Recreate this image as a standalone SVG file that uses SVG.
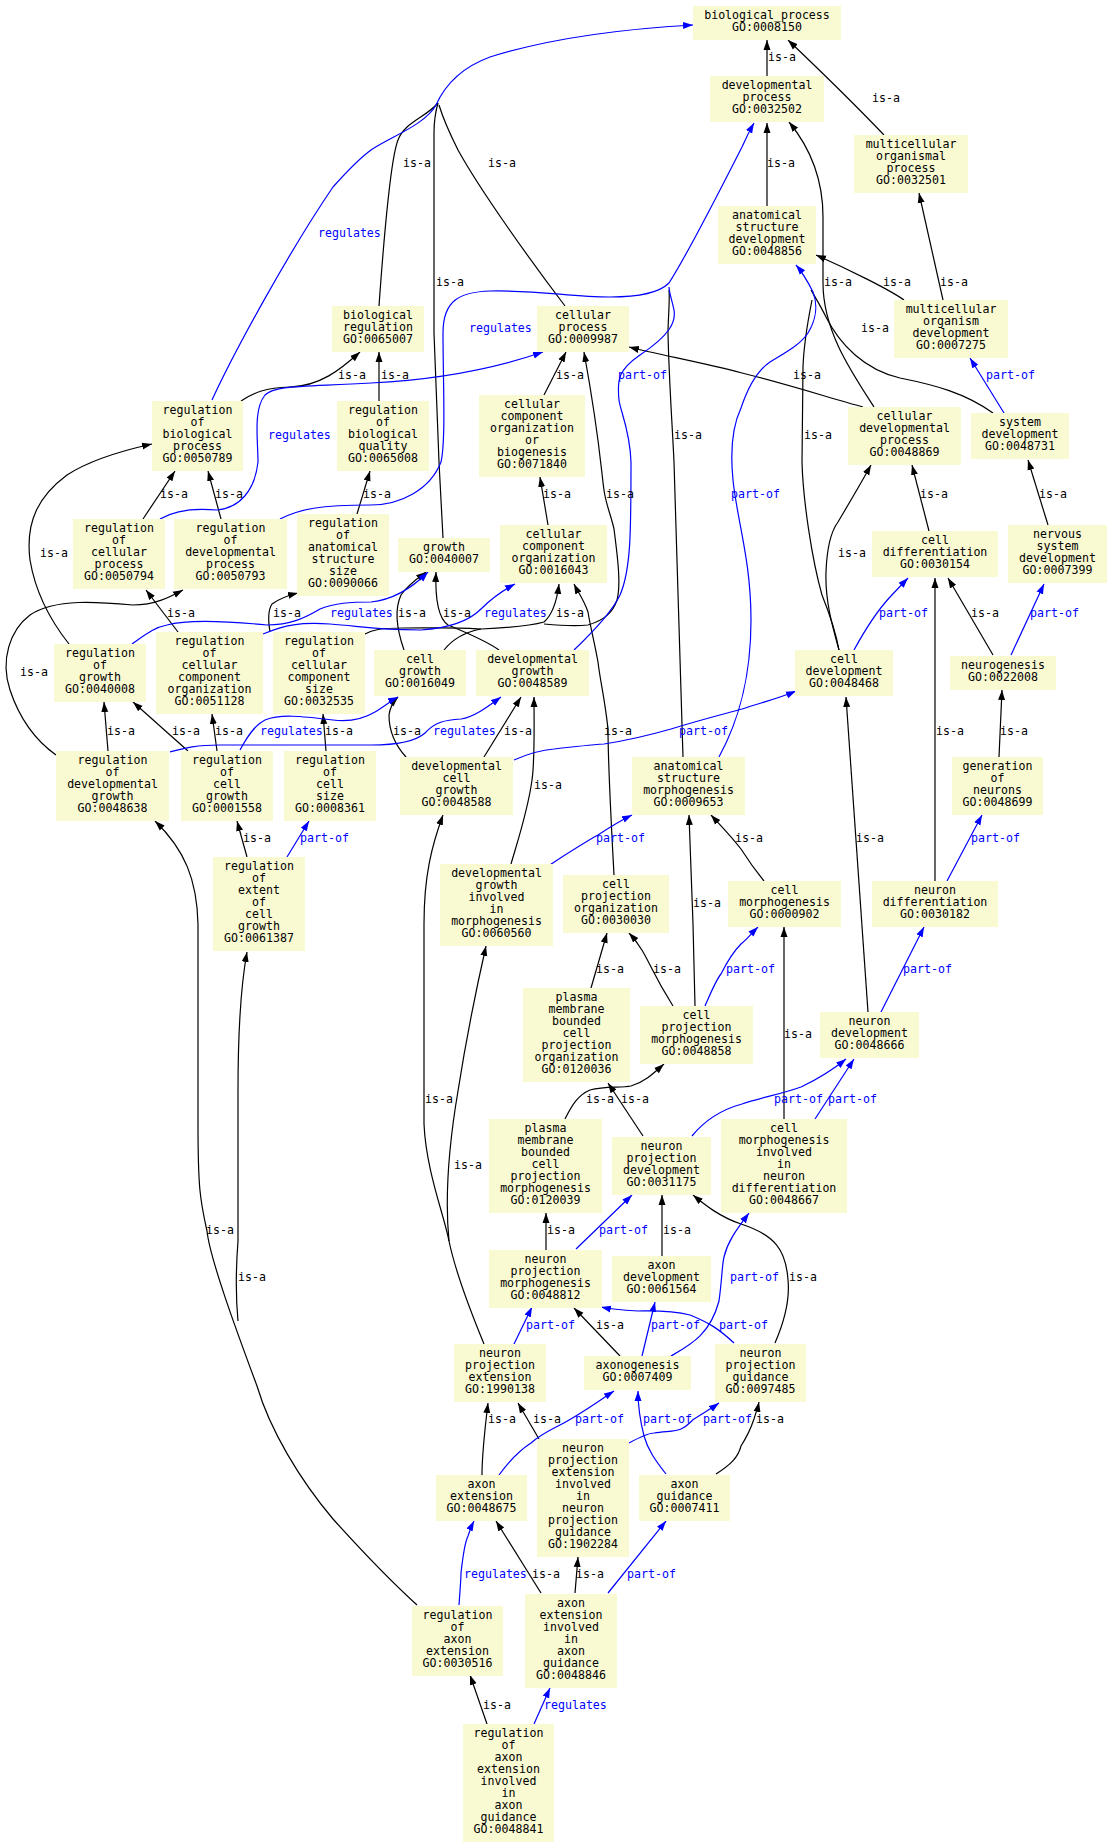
<svg xmlns="http://www.w3.org/2000/svg" width="1112" height="1848" viewBox="0 0 1112 1848">
<defs>
<style>
text{font-family:"DejaVu Sans Mono",monospace;font-size:11.6px}
.n rect{fill:#fafad2}
.n text{text-anchor:middle;fill:#000}
.e{fill:none;stroke:#000;stroke-width:1.2}
.b{fill:none;stroke:#00f;stroke-width:1.2}
.ek{marker-end:url(#ak)}
.bk{marker-end:url(#ab)}
.l{fill:#000}
.lb{fill:#00f}
</style>
<marker id="ak" markerUnits="userSpaceOnUse" markerWidth="11" markerHeight="9" refX="10" refY="4" orient="auto"><path d="M0,0.5 L10,4 L0,7.5 z" fill="#000"/></marker>
<marker id="ab" markerUnits="userSpaceOnUse" markerWidth="11" markerHeight="9" refX="10" refY="4" orient="auto"><path d="M0,0.5 L10,4 L0,7.5 z" fill="#00f"/></marker>
</defs>
<rect width="1112" height="1848" fill="#fff"/>
<g id="connectors">
<path class="e ek" d="M767,76 L767,40"/>
<path class="e ek" d="M884,135 C862,112 830,80 788,40"/>
<path class="e ek" d="M767,206 L767,123"/>
<path class="e ek" d="M904,300 C890,290 850,270 816,255"/>
<path class="e ek" d="M943,300 L919,193"/>
<path class="e ek" d="M874,407 C850,370 823,330 823,283 L823,217 C823,180 812,150 789,122"/>
<path class="e" d="M993,413 C965,393 935,385 900,378 C865,370 840,345 826,317 C820,305 815,297 811,290"/>
<path class="e" d="M839,650 C835,628 828,610 822,595 C812,560 803,500 802,462 L803,367 C804,340 808,320 812,300"/>
<path class="e" d="M683,757 L674,462 C672,420 669,380 668,333 C668,320 670,300 669,290"/>
<path class="e ek" d="M863,407 C830,398 790,385 742,373 C700,362 660,355 629,347"/>
<path class="e" d="M379,306 C383,250 390,160 398,140 C405,122 425,118 438,103"/>
<path class="e" d="M443,538 L439,462 L434,333 L434,133 C434,120 436,110 438,103"/>
<path class="e" d="M565,306 C530,260 480,190 458,150 C448,130 442,115 439,105"/>
<path class="e ek" d="M241,401 C255,392 265,388 290,387 C320,386 340,370 360,352"/>
<path class="e ek" d="M379,401 L379,352"/>
<path class="e ek" d="M544,395 L566,352"/>
<path class="e ek" d="M143,519 L175,471"/>
<path class="e ek" d="M221,519 L208,471"/>
<path class="e ek" d="M357,514 L370,471"/>
<path class="e ek" d="M548,525 L540,477"/>
<path class="e ek" d="M404,650 C397,630 394,610 401,595 C408,585 418,578 426,572"/>
<path class="e ek" d="M499,650 C485,640 460,630 448,625 C438,618 435,600 436,572"/>
<path class="e ek" d="M69,644 C50,620 35,590 30,560 C25,520 40,495 67,475 C90,460 125,450 152,444"/>
<path class="e ek" d="M56,755 C35,740 20,720 10,690 C0,660 10,630 30,615 C55,598 100,602 133,605 C155,605 170,597 183,590"/>
<path class="e ek" d="M178,632 L146,590"/>
<path class="e ek" d="M270,632 C268,620 268,610 272,604 C280,598 290,595 298,593"/>
<path class="e" d="M444,650 C452,640 465,632 481,629"/>
<path class="e" d="M365,634 C372,630 380,628 404,628 C430,628 460,627 481,629"/>
<path class="e ek" d="M481,629 C505,628 530,626 544,622 C552,615 557,600 559,584"/>
<path class="e ek" d="M544,624 C565,626 580,626 588,625 C605,620 613,612 617,600 C621,585 618,560 614,529 C611,515 606,505 604,490 C601,470 600,440 584,352"/>
<path class="e ek" d="M614,875 C611,820 608,760 608,729 C605,700 600,680 598,662 C594,640 590,625 588,612 C584,600 578,592 574,584"/>
<path class="e ek" d="M108,751 L104,702"/>
<path class="e ek" d="M188,751 L133,702"/>
<path class="e ek" d="M217,751 L212,714"/>
<path class="e ek" d="M326,751 L323,714"/>
<path class="e ek" d="M247,857 L237,821"/>
<path class="e ek" d="M406,757 C395,745 389,730 389,715 C390,707 394,701 398,697"/>
<path class="e ek" d="M484,757 L521,697"/>
<path class="e ek" d="M511,864 C518,840 528,810 532,780 C535,760 534,720 534,697"/>
<path class="e ek" d="M929,531 L912,465"/>
<path class="e ek" d="M839,650 C832,625 825,600 826,572 C827,545 832,530 838,522 C848,505 860,485 871,465"/>
<path class="e ek" d="M1048,525 L1028,460"/>
<path class="e ek" d="M993,655 L948,578"/>
<path class="e ek" d="M999,757 L1002,690"/>
<path class="e ek" d="M935,881 L935,578"/>
<path class="e ek" d="M868,1012 L846,697"/>
<path class="e ek" d="M764,881 C755,870 748,860 741,849 C730,835 720,825 711,815"/>
<path class="e ek" d="M673,1006 C663,990 655,975 651,967 C645,955 640,945 629,933"/>
<path class="e ek" d="M695,1006 L693,924 L689,815"/>
<path class="e ek" d="M591,988 L607,933"/>
<path class="e ek" d="M565,1119 C572,1105 578,1095 590,1090 C605,1086 620,1088 631,1086 C645,1082 655,1072 664,1064"/>
<path class="e ek" d="M643,1136 L608,1083"/>
<path class="e ek" d="M784,1119 L784,927"/>
<path class="e ek" d="M546,1250 L546,1213"/>
<path class="e ek" d="M662,1256 L662,1195"/>
<path class="e ek" d="M775,1343 C785,1320 790,1300 788,1280 C786,1250 775,1235 741,1224 C720,1217 705,1205 693,1195"/>
<path class="e ek" d="M620,1356 L574,1308"/>
<path class="e ek" d="M484,1344 C470,1310 455,1270 449,1241 C445,1200 448,1150 458,1091 C466,1040 476,990 486,946"/>
<path class="e ek" d="M449,1241 C444,1215 426,1170 424,1124 L424,924 C424,875 432,845 443,815"/>
<path class="e ek" d="M417,1605 C395,1585 370,1560 333,1519 C300,1480 270,1430 257,1386 C240,1340 210,1260 207,1231 C200,1200 198,1187 198,1124 L198,924 C197,880 185,850 155,821"/>
<path class="e ek" d="M238,1321 C236,1300 235,1280 238,1241 L238,1091 C238,1040 240,990 247,952"/>
<path class="e ek" d="M482,1475 C482,1455 484,1436 488,1403"/>
<path class="e ek" d="M539,1439 L518,1403"/>
<path class="e ek" d="M716,1474 C730,1465 738,1458 741,1446 C748,1435 752,1425 754,1419 C756,1412 758,1407 759,1402"/>
<path class="e ek" d="M541,1593 L496,1521"/>
<path class="e ek" d="M575,1593 L578,1557"/>
<path class="e ek" d="M487,1724 L470,1675"/>
<path class="b bk" d="M212,400 C235,350 290,250 333,187 C350,168 360,158 371,150 C390,137 425,125 436,105 C445,85 460,68 490,57 C560,35 640,28 693,25"/>
<path class="b bk" d="M280,519 C300,509 320,505 371,505 C400,505 430,490 441,462 C446,440 443,380 443,333 C443,300 460,292 490,291 C540,290 570,297 610,297 C640,297 660,292 669,283 C690,250 720,190 742,147 C746,138 750,130 754,123"/>
<path class="b" d="M574,650 C595,630 612,612 620,595 C631,570 631,530 631,462 C630,430 620,410 619,400 C617,380 618,370 640,355 C670,335 676,322 674,310 C672,300 669,292 669,287"/>
<path class="b bk" d="M719,757 C738,722 751,680 751,620 C751,560 737,520 733,480 C730,450 733,425 741,408 C747,390 755,372 770,362 C785,353 800,345 808,333 C816,320 818,305 813,292 C808,282 802,272 796,265"/>
<path class="b bk" d="M160,519 C175,510 195,508 217,510 C240,508 255,490 258,462 C258,440 253,410 265,395 C275,385 300,387 371,383 C430,380 490,370 543,352"/>
<path class="b bk" d="M263,634 C285,625 300,622 330,624 C360,626 371,630 421,630 C450,628 470,620 481,609 C490,600 500,592 515,584"/>
<path class="b bk" d="M132,644 C145,635 155,627 167,625 C185,620 215,620 267,625 C290,625 305,618 320,609 C335,603 350,602 371,602 C390,600 410,590 428,572"/>
<path class="b bk" d="M240,750 C248,735 255,725 265,720 C280,714 300,716 333,720 C350,722 365,718 375,712 C385,706 392,700 398,697"/>
<path class="b bk" d="M170,752 C185,748 195,745 220,745 L371,745 C395,745 415,742 425,733 C435,722 445,720 461,719 C475,717 490,705 501,697"/>
<path class="b bk" d="M287,857 L309,821"/>
<path class="b bk" d="M514,760 C530,753 540,750 554,749 C580,746 590,745 604,744 C630,740 650,735 671,729 C700,720 720,715 742,709 C760,703 780,698 796,691"/>
<path class="b bk" d="M551,864 C565,855 585,842 598,835 C610,827 620,821 632,815"/>
<path class="b bk" d="M854,650 C866,628 878,610 890,597 L908,578"/>
<path class="b bk" d="M1004,413 L970,358"/>
<path class="b bk" d="M1011,655 L1044,584"/>
<path class="b bk" d="M947,881 L982,815"/>
<path class="b bk" d="M881,1012 L924,927"/>
<path class="b bk" d="M705,1006 C712,990 716,980 721,974 C728,960 735,950 741,944 C748,938 753,932 758,927"/>
<path class="b bk" d="M692,1136 C705,1120 720,1110 742,1104 C760,1098 785,1093 801,1087 C820,1078 835,1068 846,1059"/>
<path class="b bk" d="M815,1119 L854,1059"/>
<path class="b bk" d="M576,1249 L632,1195"/>
<path class="b bk" d="M642,1356 L655,1302"/>
<path class="b bk" d="M671,1356 C690,1345 710,1335 719,1301 C722,1280 722,1265 724,1257 C728,1240 738,1228 749,1213"/>
<path class="b bk" d="M734,1343 C720,1330 710,1323 690,1315 C670,1310 650,1311 638,1311 C620,1310 610,1309 601,1307"/>
<path class="b bk" d="M514,1344 L532,1307"/>
<path class="b bk" d="M499,1475 C510,1460 520,1450 531,1443 C540,1435 550,1430 558,1426 C580,1415 600,1400 614,1391"/>
<path class="b bk" d="M666,1474 C655,1460 648,1450 644,1436 C640,1420 638,1405 638,1391"/>
<path class="b bk" d="M629,1443 C640,1437 648,1433 654,1433 C665,1431 675,1432 681,1429 C688,1426 690,1422 694,1419 C705,1412 712,1408 719,1403"/>
<path class="b bk" d="M459,1605 C460,1590 461,1580 461,1573 C463,1555 466,1540 468,1536 C470,1530 472,1525 474,1521"/>
<path class="b bk" d="M608,1593 L666,1521"/>
<path class="b bk" d="M534,1724 L550,1688"/>
<text class="l" x="768" y="61">is-a</text>
<text class="l" x="872" y="102">is-a</text>
<text class="l" x="403" y="167">is-a</text>
<text class="l" x="488" y="167">is-a</text>
<text class="l" x="767" y="167">is-a</text>
<text class="lb" x="318" y="237">regulates</text>
<text class="l" x="436" y="286">is-a</text>
<text class="l" x="824" y="286">is-a</text>
<text class="l" x="883" y="286">is-a</text>
<text class="l" x="940" y="286">is-a</text>
<text class="lb" x="469" y="332">regulates</text>
<text class="l" x="861" y="332">is-a</text>
<text class="l" x="338" y="379">is-a</text>
<text class="l" x="381" y="379">is-a</text>
<text class="l" x="556" y="379">is-a</text>
<text class="lb" x="618" y="379">part-of</text>
<text class="l" x="793" y="379">is-a</text>
<text class="lb" x="986" y="379">part-of</text>
<text class="lb" x="268" y="439">regulates</text>
<text class="l" x="674" y="439">is-a</text>
<text class="l" x="804" y="439">is-a</text>
<text class="l" x="160" y="498">is-a</text>
<text class="l" x="215" y="498">is-a</text>
<text class="l" x="363" y="498">is-a</text>
<text class="l" x="543" y="498">is-a</text>
<text class="l" x="606" y="498">is-a</text>
<text class="lb" x="731" y="498">part-of</text>
<text class="l" x="920" y="498">is-a</text>
<text class="l" x="1039" y="498">is-a</text>
<text class="l" x="40" y="557">is-a</text>
<text class="l" x="838" y="557">is-a</text>
<text class="l" x="167" y="617">is-a</text>
<text class="l" x="273" y="617">is-a</text>
<text class="lb" x="330" y="617">regulates</text>
<text class="l" x="398" y="617">is-a</text>
<text class="l" x="443" y="617">is-a</text>
<text class="lb" x="484" y="617">regulates</text>
<text class="l" x="556" y="617">is-a</text>
<text class="lb" x="879" y="617">part-of</text>
<text class="l" x="971" y="617">is-a</text>
<text class="lb" x="1030" y="617">part-of</text>
<text class="l" x="20" y="676">is-a</text>
<text class="l" x="107" y="735">is-a</text>
<text class="l" x="172" y="735">is-a</text>
<text class="l" x="215" y="735">is-a</text>
<text class="lb" x="260" y="735">regulates</text>
<text class="l" x="325" y="735">is-a</text>
<text class="l" x="393" y="735">is-a</text>
<text class="lb" x="433" y="735">regulates</text>
<text class="l" x="504" y="735">is-a</text>
<text class="l" x="604" y="735">is-a</text>
<text class="lb" x="679" y="735">part-of</text>
<text class="l" x="936" y="735">is-a</text>
<text class="l" x="1000" y="735">is-a</text>
<text class="l" x="534" y="789">is-a</text>
<text class="l" x="243" y="842">is-a</text>
<text class="lb" x="300" y="842">part-of</text>
<text class="lb" x="596" y="842">part-of</text>
<text class="l" x="735" y="842">is-a</text>
<text class="l" x="856" y="842">is-a</text>
<text class="lb" x="971" y="842">part-of</text>
<text class="l" x="693" y="907">is-a</text>
<text class="l" x="596" y="973">is-a</text>
<text class="l" x="653" y="973">is-a</text>
<text class="lb" x="726" y="973">part-of</text>
<text class="lb" x="903" y="973">part-of</text>
<text class="l" x="784" y="1038">is-a</text>
<text class="l" x="425" y="1103">is-a</text>
<text class="l" x="586" y="1103">is-a</text>
<text class="l" x="621" y="1103">is-a</text>
<text class="lb" x="774" y="1103">part-of</text>
<text class="lb" x="828" y="1103">part-of</text>
<text class="l" x="454" y="1169">is-a</text>
<text class="l" x="206" y="1234">is-a</text>
<text class="l" x="547" y="1234">is-a</text>
<text class="lb" x="599" y="1234">part-of</text>
<text class="l" x="663" y="1234">is-a</text>
<text class="l" x="238" y="1281">is-a</text>
<text class="lb" x="730" y="1281">part-of</text>
<text class="l" x="789" y="1281">is-a</text>
<text class="lb" x="526" y="1329">part-of</text>
<text class="l" x="596" y="1329">is-a</text>
<text class="lb" x="651" y="1329">part-of</text>
<text class="lb" x="719" y="1329">part-of</text>
<text class="l" x="488" y="1423">is-a</text>
<text class="l" x="533" y="1423">is-a</text>
<text class="lb" x="575" y="1423">part-of</text>
<text class="lb" x="643" y="1423">part-of</text>
<text class="lb" x="703" y="1423">part-of</text>
<text class="l" x="756" y="1423">is-a</text>
<text class="lb" x="464" y="1578">regulates</text>
<text class="l" x="532" y="1578">is-a</text>
<text class="l" x="576" y="1578">is-a</text>
<text class="lb" x="627" y="1578">part-of</text>
<text class="l" x="483" y="1709">is-a</text>
<text class="lb" x="544" y="1709">regulates</text>
</g>
<g id="bp" class="n"><rect x="693" y="6" width="148" height="34"/><text x="767" y="19">biological_process<tspan x="767" dy="12">GO:0008150</tspan></text></g>
<g id="dp" class="n"><rect x="710" y="76" width="114" height="46"/><text x="767" y="89">developmental<tspan x="767" dy="12">process</tspan><tspan x="767" dy="12">GO:0032502</tspan></text></g>
<g id="mop" class="n"><rect x="854" y="135" width="114" height="58"/><text x="911" y="148">multicellular<tspan x="911" dy="12">organismal</tspan><tspan x="911" dy="12">process</tspan><tspan x="911" dy="12">GO:0032501</tspan></text></g>
<g id="asd" class="n"><rect x="718" y="206" width="98" height="58"/><text x="767" y="219">anatomical<tspan x="767" dy="12">structure</tspan><tspan x="767" dy="12">development</tspan><tspan x="767" dy="12">GO:0048856</tspan></text></g>
<g id="mod" class="n"><rect x="894" y="300" width="114" height="58"/><text x="951" y="313">multicellular<tspan x="951" dy="12">organism</tspan><tspan x="951" dy="12">development</tspan><tspan x="951" dy="12">GO:0007275</tspan></text></g>
<g id="cdp" class="n"><rect x="848" y="407" width="113" height="58"/><text x="904.5" y="420">cellular<tspan x="904.5" dy="12">developmental</tspan><tspan x="904.5" dy="12">process</tspan><tspan x="904.5" dy="12">GO:0048869</tspan></text></g>
<g id="sd" class="n"><rect x="971" y="413" width="98" height="46"/><text x="1020" y="426">system<tspan x="1020" dy="12">development</tspan><tspan x="1020" dy="12">GO:0048731</tspan></text></g>
<g id="br" class="n"><rect x="332" y="306" width="92" height="46"/><text x="378" y="319">biological<tspan x="378" dy="12">regulation</tspan><tspan x="378" dy="12">GO:0065007</tspan></text></g>
<g id="cp" class="n"><rect x="537" y="306" width="92" height="46"/><text x="583" y="319">cellular<tspan x="583" dy="12">process</tspan><tspan x="583" dy="12">GO:0009987</tspan></text></g>
<g id="rbp" class="n"><rect x="152" y="401" width="91" height="70"/><text x="197.5" y="414">regulation<tspan x="197.5" dy="12">of</tspan><tspan x="197.5" dy="12">biological</tspan><tspan x="197.5" dy="12">process</tspan><tspan x="197.5" dy="12">GO:0050789</tspan></text></g>
<g id="rbq" class="n"><rect x="337" y="401" width="92" height="70"/><text x="383" y="414">regulation<tspan x="383" dy="12">of</tspan><tspan x="383" dy="12">biological</tspan><tspan x="383" dy="12">quality</tspan><tspan x="383" dy="12">GO:0065008</tspan></text></g>
<g id="ccob" class="n"><rect x="479" y="395" width="106" height="82"/><text x="532" y="408">cellular<tspan x="532" dy="12">component</tspan><tspan x="532" dy="12">organization</tspan><tspan x="532" dy="12">or</tspan><tspan x="532" dy="12">biogenesis</tspan><tspan x="532" dy="12">GO:0071840</tspan></text></g>
<g id="rcp" class="n"><rect x="73" y="519" width="92" height="70"/><text x="119" y="532">regulation<tspan x="119" dy="12">of</tspan><tspan x="119" dy="12">cellular</tspan><tspan x="119" dy="12">process</tspan><tspan x="119" dy="12">GO:0050794</tspan></text></g>
<g id="rdp" class="n"><rect x="174" y="519" width="113" height="70"/><text x="230.5" y="532">regulation<tspan x="230.5" dy="12">of</tspan><tspan x="230.5" dy="12">developmental</tspan><tspan x="230.5" dy="12">process</tspan><tspan x="230.5" dy="12">GO:0050793</tspan></text></g>
<g id="rass" class="n"><rect x="297" y="514" width="92" height="82"/><text x="343" y="527">regulation<tspan x="343" dy="12">of</tspan><tspan x="343" dy="12">anatomical</tspan><tspan x="343" dy="12">structure</tspan><tspan x="343" dy="12">size</tspan><tspan x="343" dy="12">GO:0090066</tspan></text></g>
<g id="growth" class="n"><rect x="398" y="538" width="92" height="34"/><text x="444" y="551">growth<tspan x="444" dy="12">GO:0040007</tspan></text></g>
<g id="cco" class="n"><rect x="500" y="525" width="107" height="58"/><text x="553.5" y="538">cellular<tspan x="553.5" dy="12">component</tspan><tspan x="553.5" dy="12">organization</tspan><tspan x="553.5" dy="12">GO:0016043</tspan></text></g>
<g id="cd" class="n"><rect x="872" y="531" width="126" height="46"/><text x="935" y="544">cell<tspan x="935" dy="12">differentiation</tspan><tspan x="935" dy="12">GO:0030154</tspan></text></g>
<g id="nsd" class="n"><rect x="1008" y="525" width="99" height="58"/><text x="1057.5" y="538">nervous<tspan x="1057.5" dy="12">system</tspan><tspan x="1057.5" dy="12">development</tspan><tspan x="1057.5" dy="12">GO:0007399</tspan></text></g>
<g id="rg" class="n"><rect x="54" y="644" width="92" height="58"/><text x="100" y="657">regulation<tspan x="100" dy="12">of</tspan><tspan x="100" dy="12">growth</tspan><tspan x="100" dy="12">GO:0040008</tspan></text></g>
<g id="rcco" class="n"><rect x="156" y="632" width="107" height="82"/><text x="209.5" y="645">regulation<tspan x="209.5" dy="12">of</tspan><tspan x="209.5" dy="12">cellular</tspan><tspan x="209.5" dy="12">component</tspan><tspan x="209.5" dy="12">organization</tspan><tspan x="209.5" dy="12">GO:0051128</tspan></text></g>
<g id="rccs" class="n"><rect x="273" y="632" width="92" height="82"/><text x="319" y="645">regulation<tspan x="319" dy="12">of</tspan><tspan x="319" dy="12">cellular</tspan><tspan x="319" dy="12">component</tspan><tspan x="319" dy="12">size</tspan><tspan x="319" dy="12">GO:0032535</tspan></text></g>
<g id="cg" class="n"><rect x="374" y="650" width="92" height="46"/><text x="420" y="663">cell<tspan x="420" dy="12">growth</tspan><tspan x="420" dy="12">GO:0016049</tspan></text></g>
<g id="dg" class="n"><rect x="476" y="650" width="113" height="46"/><text x="532.5" y="663">developmental<tspan x="532.5" dy="12">growth</tspan><tspan x="532.5" dy="12">GO:0048589</tspan></text></g>
<g id="cdev" class="n"><rect x="795" y="650" width="98" height="46"/><text x="844" y="663">cell<tspan x="844" dy="12">development</tspan><tspan x="844" dy="12">GO:0048468</tspan></text></g>
<g id="ng" class="n"><rect x="950" y="656" width="106" height="34"/><text x="1003" y="669">neurogenesis<tspan x="1003" dy="12">GO:0022008</tspan></text></g>
<g id="rdg" class="n"><rect x="56" y="751" width="113" height="70"/><text x="112.5" y="764">regulation<tspan x="112.5" dy="12">of</tspan><tspan x="112.5" dy="12">developmental</tspan><tspan x="112.5" dy="12">growth</tspan><tspan x="112.5" dy="12">GO:0048638</tspan></text></g>
<g id="rcg" class="n"><rect x="181" y="751" width="92" height="70"/><text x="227" y="764">regulation<tspan x="227" dy="12">of</tspan><tspan x="227" dy="12">cell</tspan><tspan x="227" dy="12">growth</tspan><tspan x="227" dy="12">GO:0001558</tspan></text></g>
<g id="rcs" class="n"><rect x="284" y="751" width="92" height="70"/><text x="330" y="764">regulation<tspan x="330" dy="12">of</tspan><tspan x="330" dy="12">cell</tspan><tspan x="330" dy="12">size</tspan><tspan x="330" dy="12">GO:0008361</tspan></text></g>
<g id="dcg" class="n"><rect x="400" y="757" width="113" height="58"/><text x="456.5" y="770">developmental<tspan x="456.5" dy="12">cell</tspan><tspan x="456.5" dy="12">growth</tspan><tspan x="456.5" dy="12">GO:0048588</tspan></text></g>
<g id="asm" class="n"><rect x="632" y="757" width="113" height="58"/><text x="688.5" y="770">anatomical<tspan x="688.5" dy="12">structure</tspan><tspan x="688.5" dy="12">morphogenesis</tspan><tspan x="688.5" dy="12">GO:0009653</tspan></text></g>
<g id="gon" class="n"><rect x="952" y="757" width="91" height="58"/><text x="997.5" y="770">generation<tspan x="997.5" dy="12">of</tspan><tspan x="997.5" dy="12">neurons</tspan><tspan x="997.5" dy="12">GO:0048699</tspan></text></g>
<g id="recg" class="n"><rect x="213" y="857" width="92" height="94"/><text x="259" y="870">regulation<tspan x="259" dy="12">of</tspan><tspan x="259" dy="12">extent</tspan><tspan x="259" dy="12">of</tspan><tspan x="259" dy="12">cell</tspan><tspan x="259" dy="12">growth</tspan><tspan x="259" dy="12">GO:0061387</tspan></text></g>
<g id="dgim" class="n"><rect x="440" y="864" width="113" height="82"/><text x="496.5" y="877">developmental<tspan x="496.5" dy="12">growth</tspan><tspan x="496.5" dy="12">involved</tspan><tspan x="496.5" dy="12">in</tspan><tspan x="496.5" dy="12">morphogenesis</tspan><tspan x="496.5" dy="12">GO:0060560</tspan></text></g>
<g id="cpo" class="n"><rect x="563" y="875" width="106" height="58"/><text x="616" y="888">cell<tspan x="616" dy="12">projection</tspan><tspan x="616" dy="12">organization</tspan><tspan x="616" dy="12">GO:0030030</tspan></text></g>
<g id="cm" class="n"><rect x="728" y="881" width="113" height="46"/><text x="784.5" y="894">cell<tspan x="784.5" dy="12">morphogenesis</tspan><tspan x="784.5" dy="12">GO:0000902</tspan></text></g>
<g id="nd" class="n"><rect x="872" y="881" width="126" height="46"/><text x="935" y="894">neuron<tspan x="935" dy="12">differentiation</tspan><tspan x="935" dy="12">GO:0030182</tspan></text></g>
<g id="pmbcpo" class="n"><rect x="523" y="988" width="107" height="94"/><text x="576.5" y="1001">plasma<tspan x="576.5" dy="12">membrane</tspan><tspan x="576.5" dy="12">bounded</tspan><tspan x="576.5" dy="12">cell</tspan><tspan x="576.5" dy="12">projection</tspan><tspan x="576.5" dy="12">organization</tspan><tspan x="576.5" dy="12">GO:0120036</tspan></text></g>
<g id="cpm" class="n"><rect x="640" y="1006" width="113" height="58"/><text x="696.5" y="1019">cell<tspan x="696.5" dy="12">projection</tspan><tspan x="696.5" dy="12">morphogenesis</tspan><tspan x="696.5" dy="12">GO:0048858</tspan></text></g>
<g id="ndev" class="n"><rect x="820" y="1012" width="99" height="46"/><text x="869.5" y="1025">neuron<tspan x="869.5" dy="12">development</tspan><tspan x="869.5" dy="12">GO:0048666</tspan></text></g>
<g id="pmbcpm" class="n"><rect x="489" y="1119" width="113" height="94"/><text x="545.5" y="1132">plasma<tspan x="545.5" dy="12">membrane</tspan><tspan x="545.5" dy="12">bounded</tspan><tspan x="545.5" dy="12">cell</tspan><tspan x="545.5" dy="12">projection</tspan><tspan x="545.5" dy="12">morphogenesis</tspan><tspan x="545.5" dy="12">GO:0120039</tspan></text></g>
<g id="npd" class="n"><rect x="612" y="1137" width="99" height="58"/><text x="661.5" y="1150">neuron<tspan x="661.5" dy="12">projection</tspan><tspan x="661.5" dy="12">development</tspan><tspan x="661.5" dy="12">GO:0031175</tspan></text></g>
<g id="cmind" class="n"><rect x="721" y="1119" width="126" height="94"/><text x="784" y="1132">cell<tspan x="784" dy="12">morphogenesis</tspan><tspan x="784" dy="12">involved</tspan><tspan x="784" dy="12">in</tspan><tspan x="784" dy="12">neuron</tspan><tspan x="784" dy="12">differentiation</tspan><tspan x="784" dy="12">GO:0048667</tspan></text></g>
<g id="npm" class="n"><rect x="489" y="1250" width="113" height="58"/><text x="545.5" y="1263">neuron<tspan x="545.5" dy="12">projection</tspan><tspan x="545.5" dy="12">morphogenesis</tspan><tspan x="545.5" dy="12">GO:0048812</tspan></text></g>
<g id="ad" class="n"><rect x="612" y="1256" width="99" height="46"/><text x="661.5" y="1269">axon<tspan x="661.5" dy="12">development</tspan><tspan x="661.5" dy="12">GO:0061564</tspan></text></g>
<g id="npe" class="n"><rect x="454" y="1344" width="92" height="58"/><text x="500" y="1357">neuron<tspan x="500" dy="12">projection</tspan><tspan x="500" dy="12">extension</tspan><tspan x="500" dy="12">GO:1990138</tspan></text></g>
<g id="axg" class="n"><rect x="584" y="1356" width="107" height="34"/><text x="637.5" y="1369">axonogenesis<tspan x="637.5" dy="12">GO:0007409</tspan></text></g>
<g id="npg" class="n"><rect x="715" y="1344" width="91" height="58"/><text x="760.5" y="1357">neuron<tspan x="760.5" dy="12">projection</tspan><tspan x="760.5" dy="12">guidance</tspan><tspan x="760.5" dy="12">GO:0097485</tspan></text></g>
<g id="ae" class="n"><rect x="436" y="1475" width="91" height="46"/><text x="481.5" y="1488">axon<tspan x="481.5" dy="12">extension</tspan><tspan x="481.5" dy="12">GO:0048675</tspan></text></g>
<g id="npeinpg" class="n"><rect x="537" y="1439" width="92" height="118"/><text x="583" y="1452">neuron<tspan x="583" dy="12">projection</tspan><tspan x="583" dy="12">extension</tspan><tspan x="583" dy="12">involved</tspan><tspan x="583" dy="12">in</tspan><tspan x="583" dy="12">neuron</tspan><tspan x="583" dy="12">projection</tspan><tspan x="583" dy="12">guidance</tspan><tspan x="583" dy="12">GO:1902284</tspan></text></g>
<g id="ag" class="n"><rect x="639" y="1475" width="91" height="46"/><text x="684.5" y="1488">axon<tspan x="684.5" dy="12">guidance</tspan><tspan x="684.5" dy="12">GO:0007411</tspan></text></g>
<g id="rae" class="n"><rect x="412" y="1606" width="91" height="70"/><text x="457.5" y="1619">regulation<tspan x="457.5" dy="12">of</tspan><tspan x="457.5" dy="12">axon</tspan><tspan x="457.5" dy="12">extension</tspan><tspan x="457.5" dy="12">GO:0030516</tspan></text></g>
<g id="aeiag" class="n"><rect x="525" y="1594" width="92" height="94"/><text x="571" y="1607">axon<tspan x="571" dy="12">extension</tspan><tspan x="571" dy="12">involved</tspan><tspan x="571" dy="12">in</tspan><tspan x="571" dy="12">axon</tspan><tspan x="571" dy="12">guidance</tspan><tspan x="571" dy="12">GO:0048846</tspan></text></g>
<g id="raeiag" class="n"><rect x="463" y="1724" width="91" height="118"/><text x="508.5" y="1737">regulation<tspan x="508.5" dy="12">of</tspan><tspan x="508.5" dy="12">axon</tspan><tspan x="508.5" dy="12">extension</tspan><tspan x="508.5" dy="12">involved</tspan><tspan x="508.5" dy="12">in</tspan><tspan x="508.5" dy="12">axon</tspan><tspan x="508.5" dy="12">guidance</tspan><tspan x="508.5" dy="12">GO:0048841</tspan></text></g>
</svg>
